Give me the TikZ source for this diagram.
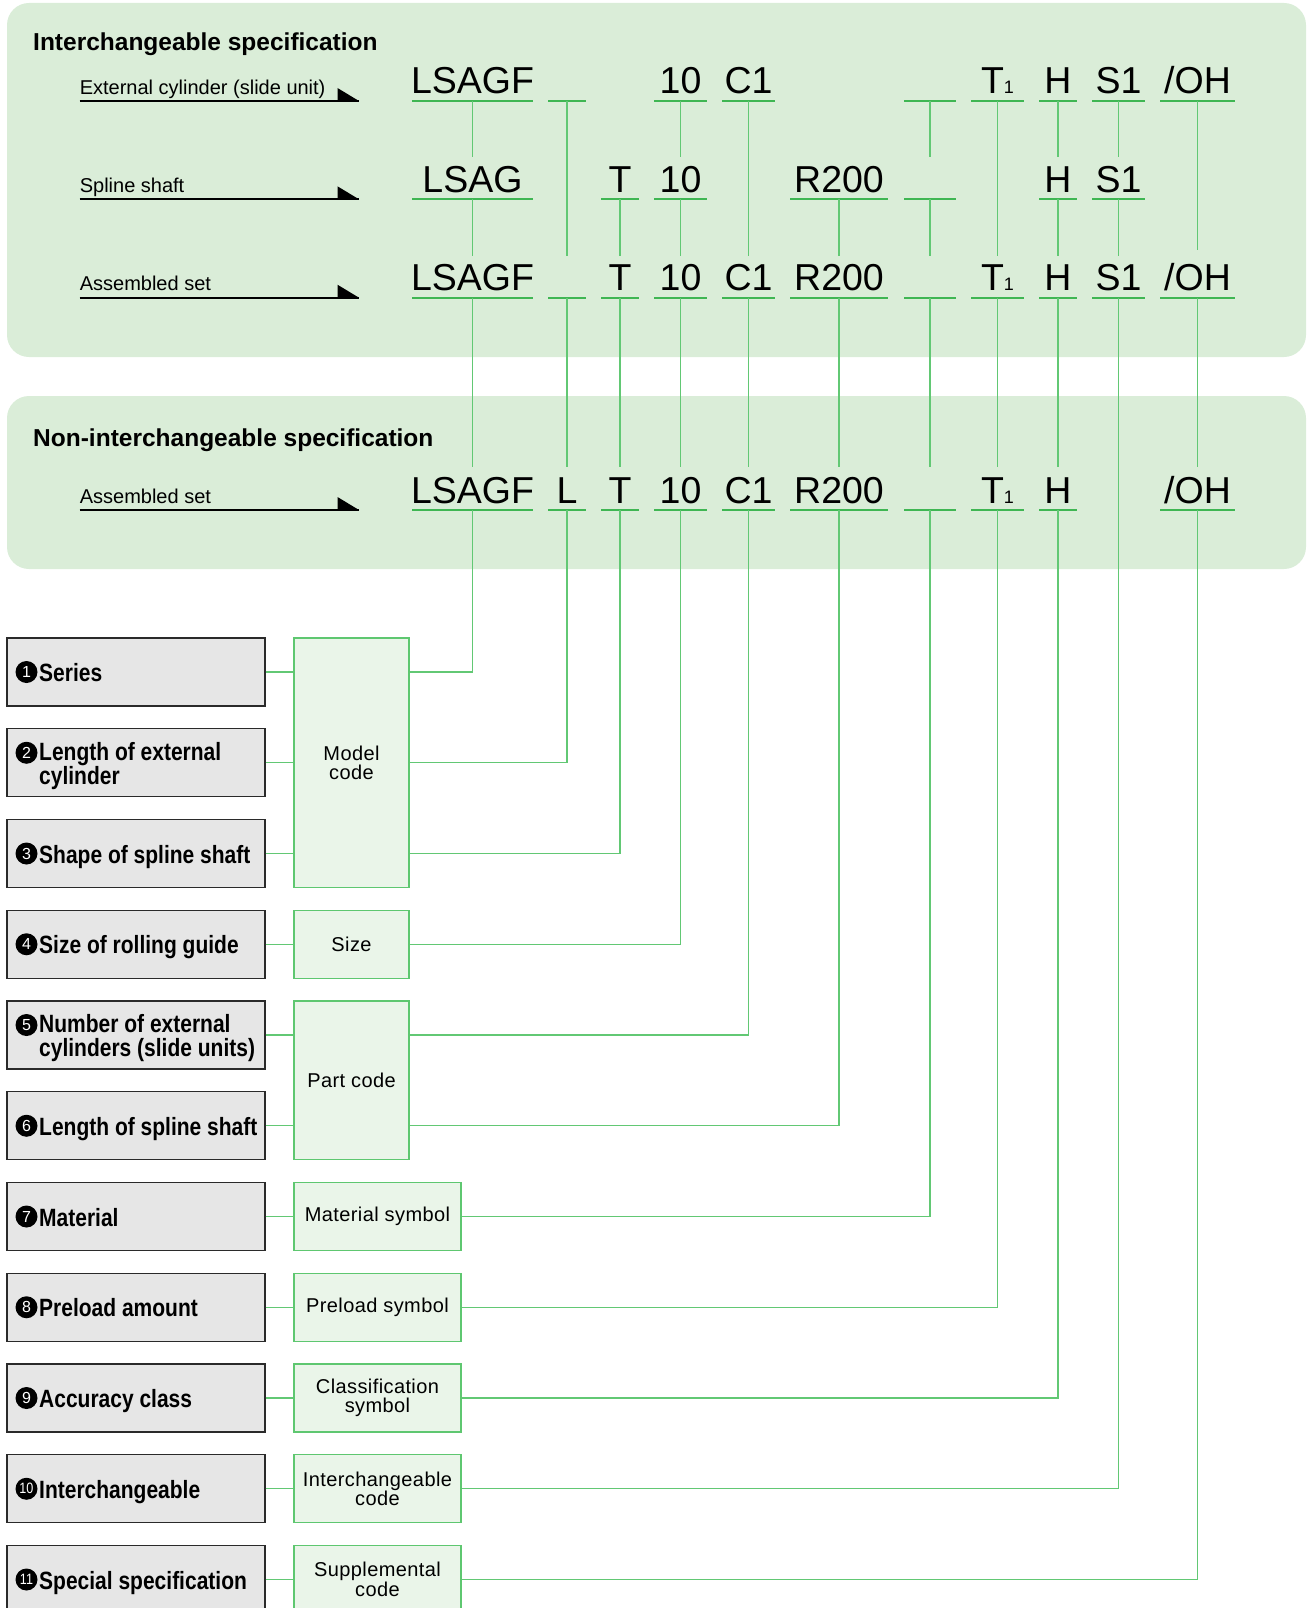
\documentclass[tikz,border=0pt]{standalone}
\usepackage{fontspec}
\setmainfont{Liberation Sans}
\newfontfamily\labfont[FakeStretch=0.84]{Liberation Sans}
\newfontfamily\boxfont[LetterSpace=2]{Liberation Sans}
\definecolor{panelgreen}{HTML}{DAEDD8}
\definecolor{ulgreen}{HTML}{3FB653}
\definecolor{lngreen}{HTML}{62C874}
\definecolor{bxgreen}{HTML}{5EC770}
\definecolor{bxfill}{HTML}{EAF5E9}
\definecolor{labgray}{HTML}{E6E6E6}
\definecolor{boxgray}{HTML}{2A2A2A}
\newcommand{\Tsub}{T{\fontsize{18}{18}\selectfont 1}}
\begin{document}
\begin{tikzpicture}[x=1pt,y=-1pt,
  rowtxt/.style={font=\fontsize{37.5}{37.5}\selectfont, inner sep=0pt, anchor=base},
  uline/.style={draw=ulgreen, line width=2.2pt},
  vline/.style={draw=lngreen, line width=1.2pt},
  rowlab/.style={font=\fontsize{20}{20}\selectfont, inner sep=0pt, anchor=base west},
  ttl/.style={font=\bfseries\fontsize{24.5}{24.5}\selectfont, inner sep=0pt, anchor=base west},
  blkline/.style={draw=black, line width=2.4pt},
  labbox/.style={draw=boxgray, fill=labgray, line width=1.3pt, minimum width=258pt, minimum height=68pt, inner sep=0pt},
  labtxt/.style={font=\labfont\bfseries\fontsize{25}{24}\selectfont, align=left, inner sep=0pt},
  cnum/.style={circle, fill=black, text=white, minimum size=22pt, inner sep=0pt, font=\fontsize{16}{16}\selectfont},
  cnumw/.style={cnum, font=\labfont\fontsize{15}{15}\selectfont},
  codebox/.style={draw=bxgreen, fill=bxfill, line width=1.3pt, inner sep=0pt, font=\boxfont\fontsize{20}{19.5}\selectfont, align=center}
]
\useasboundingbox (0,0) rectangle (1308,1608);
\clip (0,0) rectangle (1308,1608);

% panels
\fill[panelgreen, rounded corners=22pt] (7,3) rectangle (1306,357);
\fill[panelgreen, rounded corners=22pt] (7,396) rectangle (1306,569);

% titles
\node[ttl] (title1) at (33,51) {Interchangeable specification};
\node[ttl] (title2) at (33,446) {Non-interchangeable specification};

% row labels with arrows
\foreach \r/\y/\t in {1/101/{External cylinder (slide unit)}, 2/199.3/{Spline shaft}, 3/297.7/{Assembled set}, 4/510/{Assembled set}} {
  \node[rowlab] (lab\r) at (79.6,\y-6.8) {\t};
  \coordinate (as\r) at (79.6,\y);
  \coordinate (ae\r) at (359,\y);
  \draw[blkline] (as\r) -- (ae\r);
  \fill[black] (337.5,\y-13) -- (337.5,\y) -- (ae\r) -- cycle;
}

% row 1
\foreach \c/\x/\w/\t in {1/472.5/60.5/{LSAGF}, 2/567/19/{}, 4/680.5/26.5/{10}, 5/748.5/26.5/{C1}, 7/930/26/{}, 8/997.5/26.5/{\Tsub}, 9/1058/19/{H}, 10/1118.5/26.5/{S1}, 11/1197.5/37.5/{/OH}} {
  \coordinate (u1-\c) at (\x,101);
  \draw[uline] (\x-\w,101) -- (\x+\w,101);
  \node[rowtxt] (t1-\c) at (\x,94) {\t};
}
% row 2
\foreach \c/\x/\w/\t in {1/472.5/60.5/{LSAG}, 3/620/19/{T}, 4/680.5/26.5/{10}, 6/839/49/{R200}, 7/930/26/{}, 9/1058/19/{H}, 10/1118.5/26.5/{S1}} {
  \coordinate (u2-\c) at (\x,199.3);
  \coordinate (a2-\c) at (\x,157);
  \draw[uline] (\x-\w,199.3) -- (\x+\w,199.3);
  \node[rowtxt] (t2-\c) at (\x,192.3) {\t};
}
% row 3
\foreach \c/\x/\w/\t in {1/472.5/60.5/{LSAGF}, 2/567/19/{}, 3/620/19/{T}, 4/680.5/26.5/{10}, 5/748.5/26.5/{C1}, 6/839/49/{R200}, 7/930/26/{}, 8/997.5/26.5/{\Tsub}, 9/1058/19/{H}, 10/1118.5/26.5/{S1}, 11/1197.5/37.5/{/OH}} {
  \coordinate (u3-\c) at (\x,297.7);
  \coordinate (a3-\c) at (\x,256);
  \draw[uline] (\x-\w,297.7) -- (\x+\w,297.7);
  \node[rowtxt] (t3-\c) at (\x,290.7) {\t};
}
% row 4
\foreach \c/\x/\w/\t in {1/472.5/60.5/{LSAGF}, 2/567/19/{L}, 3/620/19/{T}, 4/680.5/26.5/{10}, 5/748.5/26.5/{C1}, 6/839/49/{R200}, 7/930/26/{}, 8/997.5/26.5/{\Tsub}, 9/1058/19/{H}, 11/1197.5/37.5/{/OH}} {
  \coordinate (u4-\c) at (\x,510);
  \coordinate (a4-\c) at (\x,467);
  \draw[uline] (\x-\w,510) -- (\x+\w,510);
  \node[rowtxt] (t4-\c) at (\x,503) {\t};
}

% vertical connectors in the panels
\foreach \c in {1,4,7,9,10} \draw[vline] (u1-\c) -- (a2-\c);
\foreach \c in {2,5,8} \draw[vline] (u1-\c) -- (a3-\c);
\draw[vline] (u1-11) -- ([yshift=6pt]a3-11);
\foreach \c in {1,3,4,6,7,9,10} \draw[vline] (u2-\c) -- (a3-\c);
\foreach \c in {1,2,3,4,5,6,7,8,9,11} \draw[vline] (u3-\c) -- (a4-\c);

% label boxes
\foreach \k in {1,...,11} {
  \pgfmathsetmacro{\cy}{672+90.75*(\k-1)}
  \node[labbox] (b\k) at (136,\cy) {};
}
% label texts and numbers
\foreach \k/\t in {1/{Series}, 3/{Shape of spline shaft}, 4/{Size of rolling guide}, 6/{Length of spline shaft}, 7/{Material}, 8/{Preload amount}, 9/{Accuracy class}, 10/{Interchangeable}, 11/{Special specification}} {
  \node[labtxt, anchor=base west] (lt\k) at ([yshift=-9.5pt]b\k.west -| 39,0) {\t};
}
\node[labtxt, anchor=west] (lt2) at ([yshift=-3pt]b2.west -| 39,0) {Length of external\\cylinder};
\node[labtxt, anchor=west] (lt5) at ([yshift=-3pt]b5.west -| 39,0) {Number of external\\cylinders (slide units)};
\foreach \k in {1,3,4,6,7,8,9} \node[cnum] (n\k) at (b\k.west -| 26.5,0) {\k};
\foreach \k in {2,5} \node[cnum] (n\k) at ([yshift=10pt]b\k.west -| 26.5,0) {\k};
\foreach \k in {10,11} \node[cnumw] (n\k) at (b\k.west -| 26.5,0) {\k};

% code boxes
\node[codebox, minimum width=115pt, minimum height=249.5pt] (mc) at (351.5,762.75) {Model\\code};
\node[codebox, minimum width=115pt, minimum height=68pt] (sz) at (351.5,944.25) {Size};
\node[codebox, minimum width=115pt, minimum height=158.75pt] (pc) at (351.5,1080.4) {Part code};
\node[codebox, minimum width=167pt, minimum height=68pt] (m7) at (377.5,1216.5) {Material symbol};
\node[codebox, minimum width=167pt, minimum height=68pt] (m8) at (377.5,1307.25) {Preload symbol};
\node[codebox, minimum width=167pt, minimum height=68pt] (m9) at (377.5,1398) {Classification\\symbol};
\node[codebox, minimum width=167pt, minimum height=68pt] (m10) at (377.5,1488.75) {Interchangeable\\code};
\node[codebox, minimum width=167pt, minimum height=68pt] (m11) at (377.5,1579.5) {Supplemental\\code};

% connectors label box -> code box
\foreach \k/\bx in {1/mc,2/mc,3/mc,4/sz,5/pc,6/pc,7/m7,8/m8,9/m9,10/m10,11/m11}
  \draw[vline] (b\k.east) -- (b\k.east -| \bx.west);

% connectors code -> code box
\foreach \c/\bx in {1/mc,2/mc,3/mc,4/sz,5/pc,6/pc,7/m7,8/m8,9/m9,11/m11}
  \draw[vline] (u4-\c) |- (b\c.east -| \bx.east);
\draw[vline] (u3-10) |- (b10.east -| m10.east);
\end{tikzpicture}
\end{document}
